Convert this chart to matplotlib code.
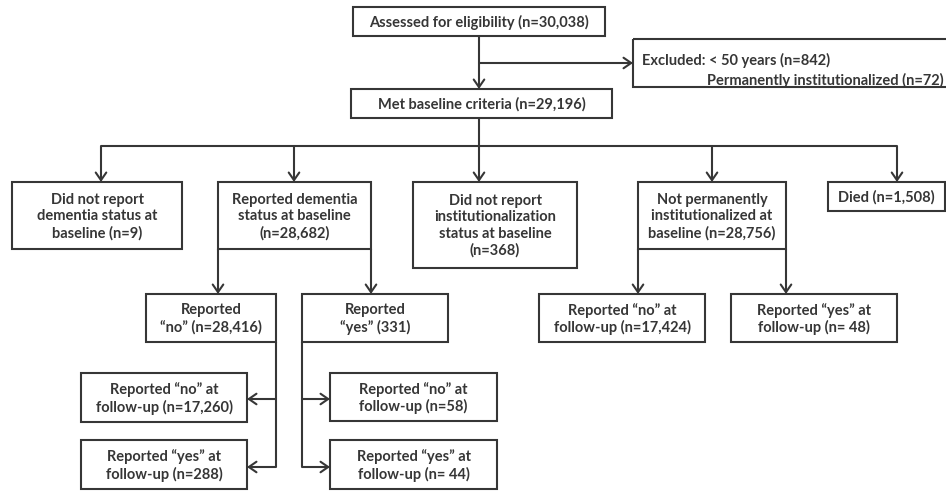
import matplotlib.pyplot as plt
from matplotlib.patches import Rectangle, FancyArrowPatch

assessed = "Assessed for eligibility (n=30,038)"
excluded_age = "Excluded: < 50 years (n=842)"
excluded_inst = "Permanently institutionalized (n=72)"
baseline = "Met baseline criteria (n=29,196)"
row2_labels = [
    "Did not report\ndementia status at\nbaseline (n=9)",
    "Reported dementia\nstatus at baseline\n(n=28,682)",
    "Did not report\ninstitutionalization\nstatus at baseline\n(n=368)",
    "Not permanently\ninstitutionalized at\nbaseline (n=28,756)",
    "Died (n=1,508)",
]
row3_labels = [
    "Reported\n\u201cno\u201d (n=28,416)",
    "Reported\n\u201cyes\u201d (331)",
    "Reported \u201cno\u201d at\nfollow-up (n=17,424)",
    "Reported \u201cyes\u201d at\nfollow-up (n= 48)",
]
row4_labels = [
    "Reported \u201cno\u201d at\nfollow-up (n=17,260)",
    "Reported \u201cyes\u201d at\nfollow-up (n=288)",
    "Reported \u201cno\u201d at\nfollow-up (n=58)",
    "Reported \u201cyes\u201d at\nfollow-up (n= 44)",
]

# Mise en page (pixels, y vers le bas)
row2_boxes = [(12, 182, 182, 249), (218, 182, 371, 249), (413, 182, 577, 268),
              (638, 182, 786, 249), (828, 182, 945, 211)]
row3_boxes = [(146, 294, 276, 342), (302, 294, 448, 342),
              (539, 294, 705, 342), (731, 294, 897, 342)]
row4_boxes = [(81, 373, 247, 422), (81, 440, 247, 489),
              (330, 373, 497, 421), (330, 440, 497, 489)]

COL = "#363636"
LW = 1.5
FONT = dict(family="Lato", fontweight="bold", fontsize=10.5, color=COL)

fig = plt.figure(figsize=(9.46, 4.91), dpi=100)
ax = fig.add_axes([0, 0, 1, 1])
ax.set_xlim(0, 946)
ax.set_ylim(491, 0)
ax.axis("off")


def box(b, text=None):
    x0, y0, x1, y1 = b
    ax.add_patch(Rectangle((x0, y0), x1 - x0, y1 - y0, fill=False,
                           edgecolor=COL, linewidth=LW, clip_on=True))
    if text:
        ax.text((x0 + x1) / 2, (y0 + y1) / 2 + 1, text, ha="center", va="center",
                linespacing=1.22, **FONT)


def line(xs, ys):
    ax.plot(xs, ys, color=COL, linewidth=LW, solid_capstyle="butt")


def arrow(p0, p1):
    ax.add_patch(FancyArrowPatch(p0, p1, arrowstyle="->,head_length=0.55,head_width=0.38",
                                 mutation_scale=10, color=COL, linewidth=LW,
                                 shrinkA=0, shrinkB=0))


# Haut du schéma
box((353, 7, 605, 36), assessed)
box((633, 39, 950, 87))
ax.text(642, 60, excluded_age, ha="left", va="center", **FONT)
ax.text(707, 80, excluded_inst, ha="left", va="center", **FONT)
box((351, 89, 612, 118), baseline)
arrow((479, 36), (479, 89))
arrow((479, 63), (633, 63))

# Deuxième rangée
line([479, 479], [118, 146])
line([101, 897], [146, 146])
for b, t, cx in zip(row2_boxes, row2_labels, [101, 294, 479, 712, 897]):
    box(b, t)
    arrow((cx, 146), (cx, b[1]))

# Troisième rangée
for b, t in zip(row3_boxes, row3_labels):
    box(b, t)
for x in [218, 371, 638, 786]:
    arrow((x, 249), (x, 294))

# Quatrième rangée
for b, t in zip(row4_boxes, row4_labels):
    box(b, t)
line([276, 276], [342, 467])
line([302, 302], [342, 467])
for y in [399, 467]:
    arrow((276, y), (247, y))
    arrow((302, y), (330, y))

fig.savefig("out.png", dpi=100)
